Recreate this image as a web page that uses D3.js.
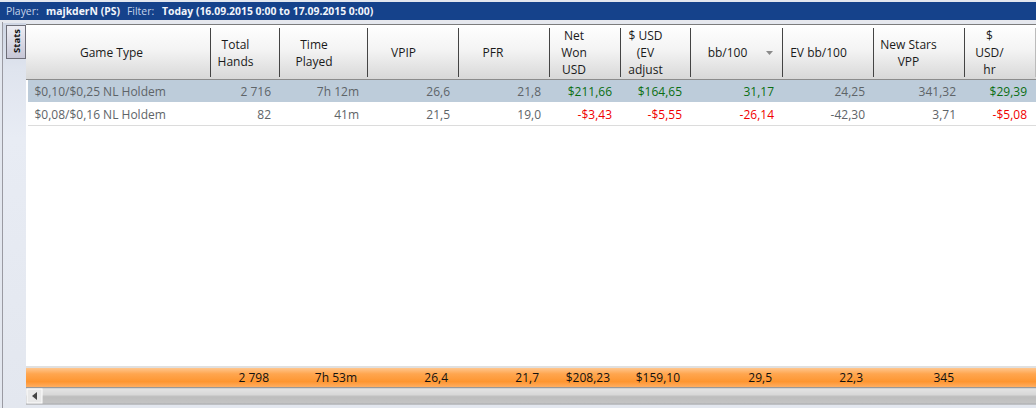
<![CDATA[<!DOCTYPE html>
<html><head><meta charset="utf-8">
<script src="https://cdnjs.cloudflare.com/ajax/libs/d3/7.8.5/d3.min.js"></script>
<style>html,body{margin:0;padding:0;background:#fff;overflow:hidden}svg{display:block}text{font-family:"Open Sans","Noto Sans",sans-serif;font-size:12px}</style>
</head><body><svg id="c" width="1036" height="408"></svg>
<script>
const headers=[["Game Type"],["Total","Hands"],["Time","Played"],["VPIP"],["PFR"],["Net","Won","USD"],["$ USD","(EV","adjust"],["bb/100"],["EV bb/100"],["New Stars","VPP"],["$","USD/","hr"]];
const gameTypes=["$0,10/$0,25 NL Holdem","$0,08/$0,16 NL Holdem"];
const totalHands=["2 716","82"];
const timePlayed=["7h 12m","41m"];
const vpip=["26,6","21,5"];
const pfr=["21,8","19,0"];
const netWon=["$211,66","-$3,43"];
const evAdjust=["$164,65","-$5,55"];
const bb100=["31,17","-26,14"];
const evBb100=["24,25","-42,30"];
const vpp=["341,32","3,71"];
const usdHr=["$29,39","-$5,08"];
const totals=["","2 798","7h 53m","26,4","21,7","$208,23","$159,10","29,5","22,3","345",""];
const columns=[gameTypes,totalHands,timePlayed,vpip,pfr,netWon,evAdjust,bb100,evBb100,vpp,usdHr];
const colouredCols=new Set([5,6,7,10]);

const edges=[26,210,279,367,458,549,620,690,782,873,964,1035];
const x=d3.scaleOrdinal().domain(d3.range(edges.length)).range(edges);
const y=d3.scaleBand().domain(d3.range(2)).range([80,126]);
const svg=d3.select("#c");
const defs=svg.append("defs");
function grad(id,stops){const g=defs.append("linearGradient").attr("id",id).attr("x1",0).attr("x2",0).attr("y1",0).attr("y2",1);
 stops.forEach(([o,c])=>g.append("stop").attr("offset",o).attr("stop-color",c));}
grad("hd",[[0,"#ffffff"],[.45,"#f4f4f4"],[1,"#d8d8d8"]]);
grad("ft",[[0,"#ffc68e"],[.3,"#ffa64f"],[.7,"#fe9631"],[1,"#ffb066"]]);
grad("sb",[[0,"#e4e4e4"],[.4,"#d8d8d8"],[.55,"#bdbdbd"],[1,"#c4c4c4"]]);
grad("tab",[[0,"#eeeef4"],[1,"#c6c6d6"]]);
grad("side",[[0,"#cfd6e4"],[.12,"#dfe4ee"],[.3,"#e8ecf4"],[1,"#e3e7ef"]]);
const rect=(x0,y0,w,h,f)=>svg.append("rect").attr("x",x0).attr("y",y0).attr("width",w).attr("height",h).attr("fill",f);

rect(0,0,1036,408,"#e3e7ef");
rect(0,2,1036,18,"#15428b");
rect(0,20,1036,3,"#e6e8ee");
rect(2,22,1,386,"#9a9aa2");
rect(3,23,23,385,"url(#side)");
rect(26,24,1010,344,"#fff");
rect(26,24,1010,1,"#7c7c7c");
rect(26,25,1010,54,"url(#hd)");
rect(26,79,1010,1,"#8c8c8c");

// tab
svg.append("rect").attr("x",6.5).attr("y",25.5).attr("width",19).attr("height",33).attr("fill","url(#tab)").attr("stroke","#6e6e78");
svg.append("text").attr("transform","translate(20,41) rotate(-90)").attr("text-anchor","middle").style("font-size","9.5px").style("font-weight",700).attr("fill","#111").text("Stats");

// title
[[6,"Player:",400,"#c6d4ea"],[46,"majkderN (PS)",700,"#f2f5fb"],[127,"Filter:",400,"#c6d4ea"],[162,"Today (16.09.2015 0:00 to 17.09.2015 0:00)",700,"#f2f5fb"]].forEach(([tx,s,w,c])=>
 svg.append("text").attr("x",tx).attr("y",15).style("font-size","10.4px").style("font-weight",w).attr("fill",c).text(s));

// header separators + labels
d3.range(1,11).forEach(i=>rect(x(i),28,1,49,"#444"));
rect(1035,28,1,49,"#bbb");
const lh=17;
const centerAdj=[-6.5,-9,-9,-9,-10.5,-10.5,-9.5,-8.5,-9,-10,-10];
headers.forEach((lines,i)=>{
 const cx=(x(i)+x(i+1))/2+centerAdj[i], top=53-(lines.length-1)*lh/2;
 svg.append("g").selectAll("text").data(lines).join("text").attr("x",cx).attr("y",(d,k)=>top+k*lh+4).attr("text-anchor","middle").attr("fill","#1a1a1a").text(d=>d);
});
svg.append("path").attr("d","M766 51h7l-3.5 4z").attr("fill","#8a8a8a");

// rows
rect(26,y(0),1010,22,"#bdccda");
rect(28,125,1008,1,"#dcdcdc");
rect(26,80,2,46,"#fff");
const colourOf=(s,i)=>colouredCols.has(i)?(s.startsWith("-")?"#f00000":"#0b6e12"):"#5e6468";
columns.forEach((col,i)=>{
 svg.append("g").selectAll("text").data(col).join("text")
  .attr("x",i===0?34.5:x(i+1)-8).attr("y",(d,r)=>y(r)+16)
  .attr("text-anchor",i===0?"start":"end").attr("fill",d=>colourOf(d,i)).text(d=>d);
});

// footer
rect(26,366,1010,2,"#e0e0e0");
rect(26,368,1010,19.5,"url(#ft)");
svg.append("g").selectAll("text").data(totals.map((d,i)=>[d,i]).filter(d=>d[0])).join("text")
 .attr("x",d=>x(d[1]+1)-10).attr("y",382).attr("text-anchor","end").attr("fill","#111").text(d=>d[0]);

// scrollbar
rect(26,387,1010,1.5,"#999");
rect(26,388.5,1010,15,"url(#sb)");
rect(26,403.5,1010,1,"#999");
svg.append("rect").attr("x",27).attr("y",389).attr("width",15).attr("height",14).attr("fill","#e8e8e8").attr("stroke","#fff");
svg.append("path").attr("d","M32 396l5-4v8z").attr("fill","#444");
</script></body></html>]]>
